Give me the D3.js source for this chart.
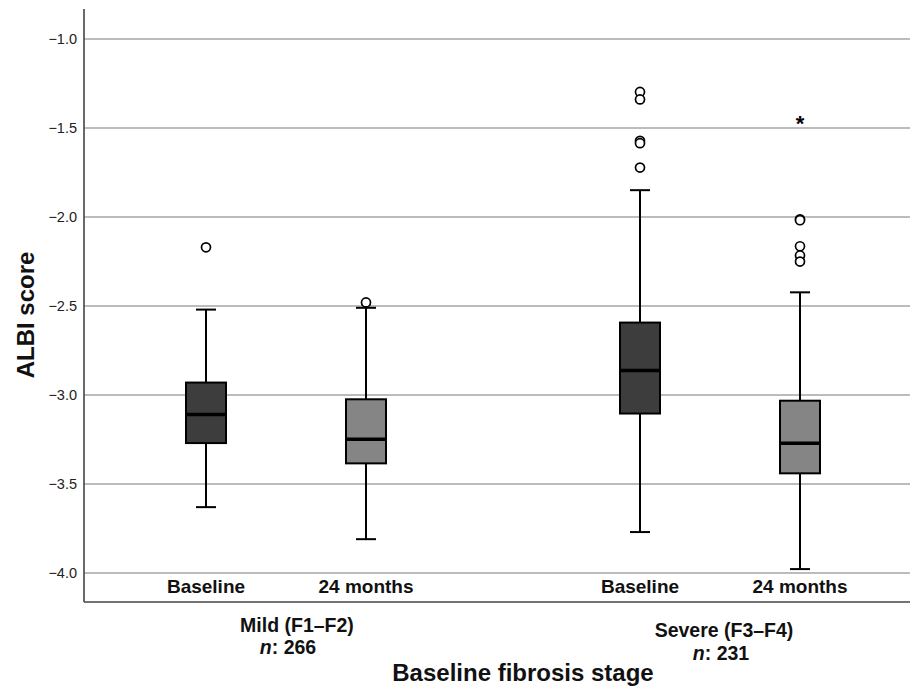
<!DOCTYPE html>
<html>
<head>
<meta charset="utf-8">
<script src="https://cdn.jsdelivr.net/npm/d3@7"></script>
<style>
  html, body { margin: 0; padding: 0; background: #fff; }
  svg { display: block; font-family: "Liberation Sans", Arial, sans-serif; }
</style>
</head>
<body>
<svg id="chart" width="910" height="688"></svg>
<script>
// ---- data ----
const groups = ["Mild (F1–F2)", "Severe (F3–F4)"];
const groupN = [266, 231];
const timepoints = ["Baseline", "24 months"];
const yTicks = [-1.0, -1.5, -2.0, -2.5, -3.0, -3.5, -4.0];

// [min whisker, Q1, median, Q3, max whisker]
const mildBaseline   = [-3.63, -3.27, -3.11, -2.93, -2.52];
const mild24         = [-3.81, -3.384, -3.249, -3.024, -2.51];
const severeBaseline = [-3.77, -3.104, -2.862, -2.593, -1.849];
const severe24       = [-3.978, -3.44, -3.271, -3.032, -2.423];

const mildBaselineOut   = [-2.17];
const mild24Out         = [-2.48];
const severeBaselineOut = [-1.297, -1.339, -1.572, -1.585, -1.722];
const severe24Out       = [-2.013, -2.018, -2.164, -2.216, -2.25];
const severe24Extreme   = [-1.463];

const boxes = [
  { group: groups[0], time: timepoints[0], stats: mildBaseline,   out: mildBaselineOut,   ext: [] },
  { group: groups[0], time: timepoints[1], stats: mild24,         out: mild24Out,         ext: [] },
  { group: groups[1], time: timepoints[0], stats: severeBaseline, out: severeBaselineOut, ext: [] },
  { group: groups[1], time: timepoints[1], stats: severe24,       out: severe24Out,       ext: severe24Extreme }
];

// ---- layout ----
const svg = d3.select("#chart");
const axisX = 84, axisTop = 9, axisBottom = 602, plotRight = 910;

const y = d3.scaleLinear().domain([-4.163, -0.831]).range([axisBottom, axisTop]);
const xGroup = d3.scalePoint().domain(groups).range([286, 720]);
const xTime = d3.scalePoint().domain(timepoints).range([-80, 80]);
const cx = d => xGroup(d.group) + xTime(d.time);

const fillColor = { "Baseline": "#3d3d3d", "24 months": "#858585" };
const boxW = 40, capW = 20;

// gridlines
svg.append("g").selectAll("line").data(yTicks).join("line")
  .attr("x1", axisX).attr("x2", plotRight)
  .attr("y1", d => y(d)).attr("y2", d => y(d))
  .attr("stroke", "#a6a6a6").attr("stroke-width", 1.5);

// y axis labels
const yAxis = d3.axisLeft(y).tickValues(yTicks).tickFormat(d3.format(".1f")).tickSize(0).tickPadding(7);
const gy = svg.append("g").attr("transform", `translate(${axisX},0)`).call(yAxis);
gy.select(".domain").remove();
gy.selectAll("text").attr("font-size", 14.5).attr("fill", "#222")
  .attr("font-family", "'Liberation Sans', Arial, sans-serif");

// axis lines
svg.append("line").attr("x1", axisX).attr("x2", axisX).attr("y1", axisTop).attr("y2", axisBottom)
  .attr("stroke", "#444").attr("stroke-width", 1.6);
svg.append("line").attr("x1", axisX).attr("x2", plotRight).attr("y1", axisBottom).attr("y2", axisBottom)
  .attr("stroke", "#444").attr("stroke-width", 1.6);

// boxes
const bg = svg.append("g").selectAll("g").data(boxes).join("g");
// whiskers
bg.append("line").attr("x1", cx).attr("x2", cx)
  .attr("y1", d => y(d.stats[4])).attr("y2", d => y(d.stats[3]))
  .attr("stroke", "#000").attr("stroke-width", 2);
bg.append("line").attr("x1", cx).attr("x2", cx)
  .attr("y1", d => y(d.stats[1])).attr("y2", d => y(d.stats[0]))
  .attr("stroke", "#000").attr("stroke-width", 2);
// caps
bg.append("line").attr("x1", d => cx(d) - capW / 2).attr("x2", d => cx(d) + capW / 2)
  .attr("y1", d => y(d.stats[4])).attr("y2", d => y(d.stats[4]))
  .attr("stroke", "#000").attr("stroke-width", 2);
bg.append("line").attr("x1", d => cx(d) - capW / 2).attr("x2", d => cx(d) + capW / 2)
  .attr("y1", d => y(d.stats[0])).attr("y2", d => y(d.stats[0]))
  .attr("stroke", "#000").attr("stroke-width", 2);
// box
bg.append("rect").attr("x", d => cx(d) - boxW / 2).attr("width", boxW)
  .attr("y", d => y(d.stats[3])).attr("height", d => y(d.stats[1]) - y(d.stats[3]))
  .attr("fill", d => fillColor[d.time]).attr("stroke", "#000").attr("stroke-width", 2);
// median
bg.append("line").attr("x1", d => cx(d) - boxW / 2).attr("x2", d => cx(d) + boxW / 2)
  .attr("y1", d => y(d.stats[2])).attr("y2", d => y(d.stats[2]))
  .attr("stroke", "#000").attr("stroke-width", 3.5);
// outliers
bg.each(function(d) {
  const g = d3.select(this);
  g.selectAll("circle").data(d.out).join("circle")
    .attr("cx", cx(d)).attr("cy", v => y(v)).attr("r", 4.5)
    .attr("fill", "#fff").attr("stroke", "#000").attr("stroke-width", 1.7);
  g.selectAll("text.ext").data(d.ext).join("text").attr("class", "ext")
    .attr("x", cx(d)).attr("y", v => y(v)).attr("dy", "0.45em")
    .attr("text-anchor", "middle").attr("font-size", 22).attr("font-weight", "bold")
    .text("*");
});

// category labels
svg.append("g").selectAll("text").data(boxes).join("text")
  .attr("x", cx).attr("y", 586).attr("dy", "0.35em")
  .attr("text-anchor", "middle").attr("font-size", 19).attr("font-weight", "bold").attr("fill", "#111")
  .text(d => d.time);

// group labels
const groupLabelPos = [{ x: 297, y: 625, nx: 288, ny: 647 }, { x: 724, y: 630, nx: 721, ny: 653 }];
groups.forEach((g, i) => {
  const p = groupLabelPos[i];
  svg.append("text").attr("x", p.x).attr("y", p.y).attr("dy", "0.35em")
    .attr("text-anchor", "middle").attr("font-size", 19.5).attr("font-weight", "bold").attr("fill", "#111")
    .text(g);
  const t = svg.append("text").attr("x", p.nx).attr("y", p.ny).attr("dy", "0.35em")
    .attr("text-anchor", "middle").attr("font-size", 19.5).attr("font-weight", "bold").attr("fill", "#111");
  t.append("tspan").attr("font-style", "italic").text("n");
  t.append("tspan").text(": " + groupN[i]);
});

// axis titles
svg.append("text").attr("x", 523).attr("y", 673).attr("dy", "0.35em")
  .attr("text-anchor", "middle").attr("font-size", 24).attr("font-weight", "bold").attr("fill", "#111")
  .text("Baseline fibrosis stage");
svg.append("text").attr("transform", "translate(26,315) rotate(-90)").attr("dy", "0.35em")
  .attr("text-anchor", "middle").attr("font-size", 24).attr("font-weight", "bold").attr("fill", "#111")
  .text("ALBI score");
</script>
</body>
</html>
